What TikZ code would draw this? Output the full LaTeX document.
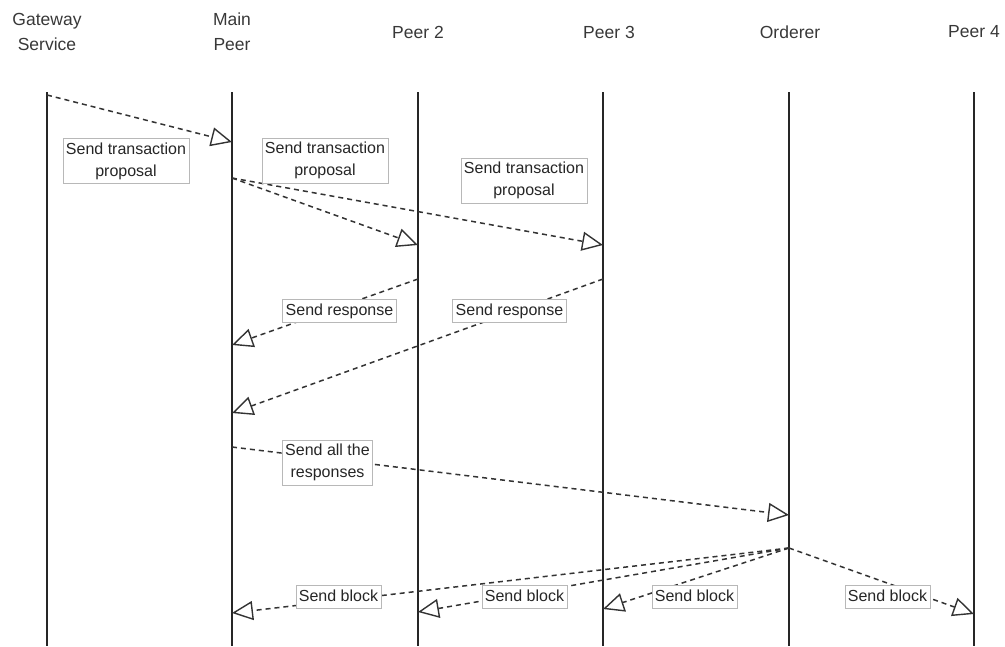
\documentclass[tikz,border=0pt]{standalone}
\usepackage{fontspec}
\setmainfont{Liberation Sans}
\usetikzlibrary{arrows.meta}
\tikzset{
  lifeline/.style={line width=1.6pt, black!85},
  msg/.style={line width=1.5pt, black!80, dash pattern=on 5pt off 4pt,
    -{Triangle[open, length=21pt, width=19pt, line width=1.4pt]}},
  lblbase/.style={draw=black!28, line width=0.7pt, fill=white, text=black!85,
    font=\fontsize{16}{22}\selectfont, align=center, inner xsep=3pt},
  lbl/.style={lblbase, text height=12.5pt, text depth=4.5pt, inner ysep=3pt},
  lbltwo/.style={lblbase, inner ysep=4pt},
  hdr/.style={font=\fontsize{17.5}{25}\selectfont, text=black!78, align=center},
}
\begin{document}
\begin{tikzpicture}[x=1pt, y=-1pt]
  \useasboundingbox (0,0) rectangle (1005,646);

  % participants
  \node[hdr] (hG) at (47,32)  {Gateway\\Service};
  \node[hdr] (hM) at (232,32) {Main\\Peer};
  \node[hdr] (h2) at (418,32) {Peer 2};
  \node[hdr] (h3) at (609,32) {Peer 3};
  \node[hdr] (hO) at (790,32) {Orderer};
  \node[hdr] (h4) at (974,32) {Peer 4};

  % lifelines
  \foreach \n/\x in {G/47, M/232, P2/418, P3/603, O/789, P4/974} {
    \coordinate (\n top) at (\x,92);
    \coordinate (\n bot) at (\x,646);
    \draw[lifeline] (\n top) -- (\n bot);
  }

  % message end points
  \coordinate (g1) at (47,95);    \coordinate (m1) at (232,142);
  \coordinate (m2) at (232,178);  \coordinate (p2a) at (418,245);
  \coordinate (p3a) at (603,245);
  \coordinate (p2b) at (418,279); \coordinate (m3) at (232,345);
  \coordinate (p3b) at (603,279); \coordinate (m4) at (232,413);
  \coordinate (m5) at (232,447);  \coordinate (o1) at (789,515);
  \coordinate (o2) at (789,548);
  \coordinate (m6) at (232,613);  \coordinate (p2c) at (418,612);
  \coordinate (p3c) at (603,609); \coordinate (p4c) at (974,614);

  % messages
  \draw[msg] (g1) -- (m1);
  \draw[msg] (m2) -- (p2a);
  \draw[msg] (m2) -- (p3a);
  \draw[msg] (p2b) -- (m3);
  \draw[msg] (p3b) -- (m4);
  \draw[msg] (m5) -- (o1);
  \draw[msg] (o2) -- (m6);
  \draw[msg] (o2) -- (p2c);
  \draw[msg] (o2) -- (p3c);
  \draw[msg] (o2) -- (p4c);

  % message labels
  \node[lbltwo] (l1)  at (126,161)   {Send transaction\\proposal};
  \node[lbltwo] (l2)  at (325,160.5) {Send transaction\\proposal};
  \node[lbltwo] (l3)  at (524,180.5) {Send transaction\\proposal};
  \node[lbl]    (l4)  at (339.5,311) {Send response};
  \node[lbl]    (l5)  at (509.5,311) {Send response};
  \node[lbltwo] (l6)  at (327.5,462.5) {Send all the\\responses};
  \node[lbl]    (l7)  at (338.5,597) {Send block};
  \node[lbl]    (l8)  at (524.5,597) {Send block};
  \node[lbl]    (l9)  at (694.5,597) {Send block};
  \node[lbl]    (l10) at (887.5,597) {Send block};
\end{tikzpicture}
\end{document}
